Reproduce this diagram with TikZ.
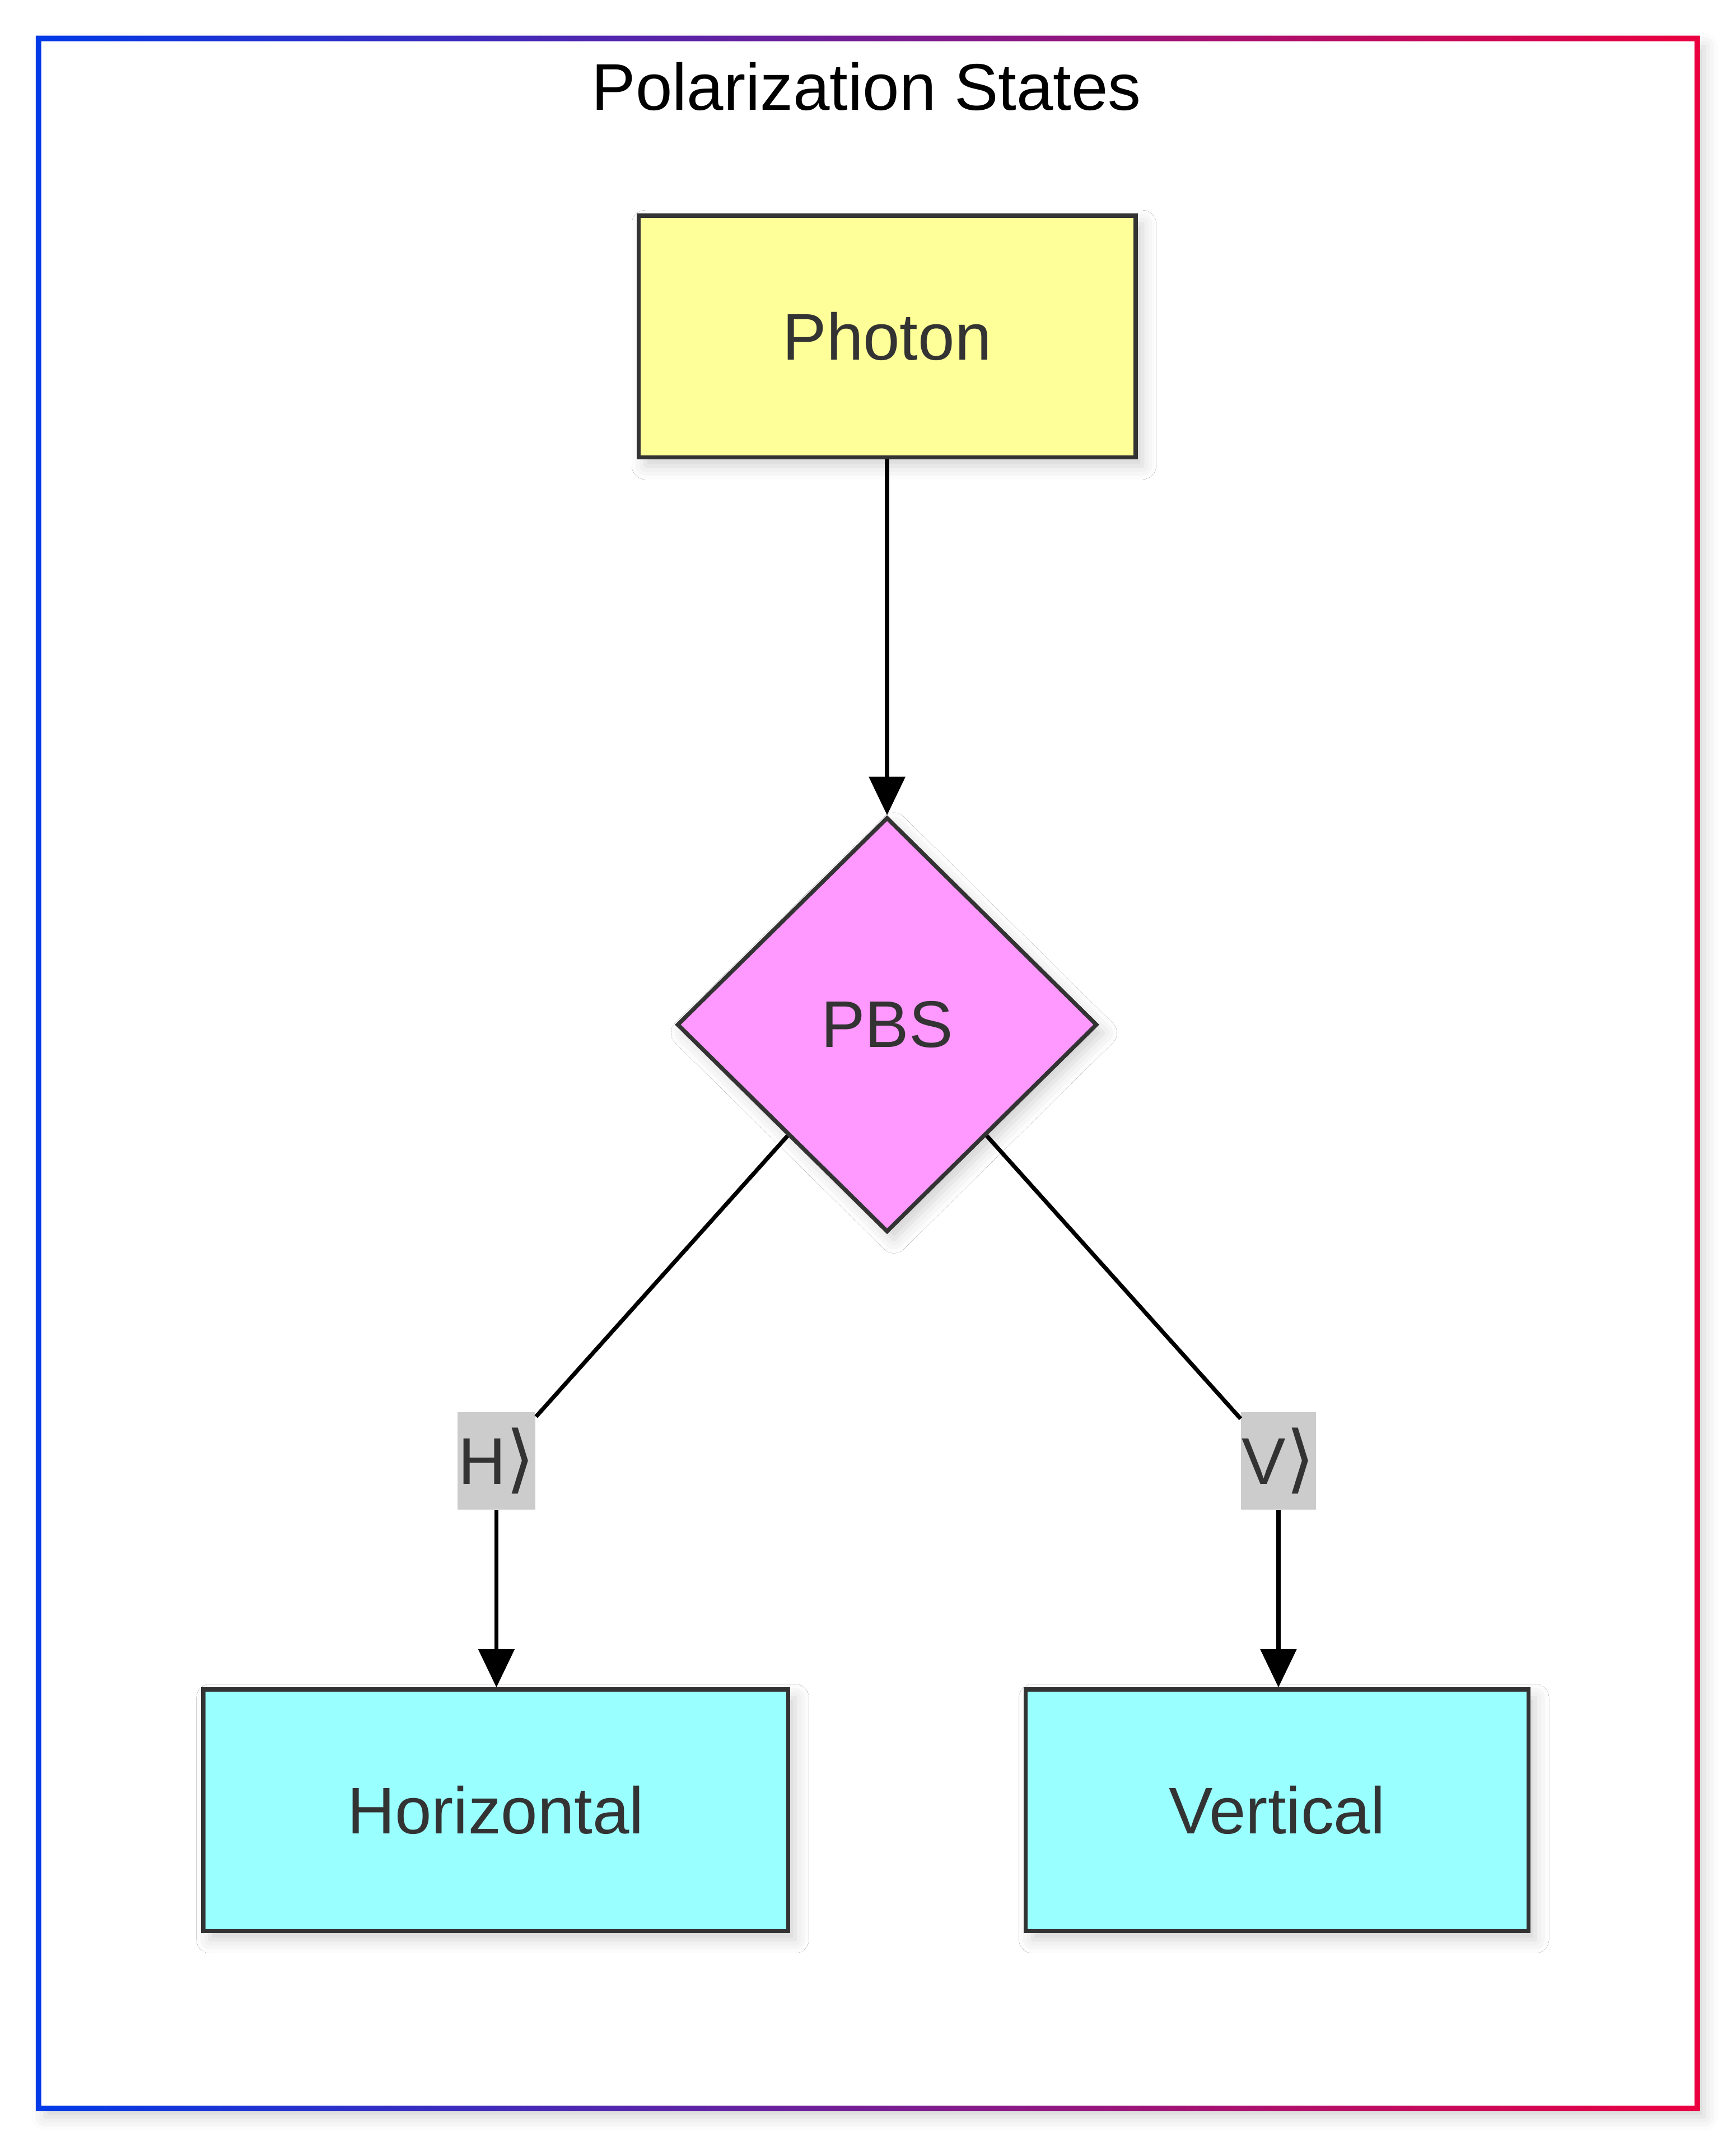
\documentclass[tikz,border=0pt]{standalone}
\usepackage{fontspec}
\setmainfont{Liberation Sans}
\newfontfamily\symfont{DejaVu Sans}
\usepackage{tikz}
\usetikzlibrary{shapes.geometric, arrows.meta, positioning, shadows.blur}

\definecolor{textgray}{HTML}{333333}
\definecolor{photonfill}{HTML}{FFFF99}
\definecolor{pbsfill}{HTML}{FF99FF}
\definecolor{statefill}{HTML}{99FFFF}
\definecolor{labelfill}{HTML}{CCCCCC}
\definecolor{frameblue}{RGB}{0,58,232}
\definecolor{framered}{RGB}{235,0,64}

\newcommand{\ketend}{{\symfont\fontsize{27}{27}\selectfont ⟩}}

\tikzset{
    softshadow/.style={blur shadow={shadow xshift=2.5pt, shadow yshift=-3pt, shadow blur radius=5pt, shadow opacity=18}},
    box/.style={rectangle, draw=textgray, line width=1.5pt, text=textgray, font=\fontsize{24}{28}\selectfont, minimum height=88pt, inner sep=0pt, softshadow},
    splitter/.style={diamond, aspect=1, draw=textgray, line width=1.5pt, fill=pbsfill, text=textgray, font=\fontsize{24}{28}\selectfont, minimum width=153pt, minimum height=151pt, inner sep=0pt, softshadow},
    statelabel/.style={rectangle, fill=labelfill, text=textgray, font=\fontsize{24}{28}\selectfont, minimum height=35.5pt, inner xsep=0.3pt, inner ysep=0pt},
    link/.style={line width=1.5pt, black},
    edge/.style={link, -{Triangle[length=14pt, width=13pt]}}
}

\begin{document}
\begin{tikzpicture}[x=0.5pt, y=-0.5pt]
    \useasboundingbox (0,0) rectangle (1264,1566);

    % outer frame with shadow and gradient border
    \fill[white, softshadow] (28,28) rectangle (1236,1535);
    \shade[even odd rule, left color=frameblue, right color=framered]
        (26,26) rectangle (1238,1537)
        (30,30) rectangle (1234,1533);
    \node[anchor=base, font=\fontsize{24}{28}\selectfont] (title) at (631,80) {Polarization States};

    % nodes
    \node[box, fill=photonfill, minimum width=181pt] (photon) at (646,245) {Photon};
    \node[splitter] (pbs) at (646,746) {PBS};
    \node[box, fill=statefill, minimum width=213pt] (horiz) at (361,1318) {Horizontal};
    \node[box, fill=statefill, minimum width=183pt] (vert) at (930,1318) {Vertical};

    % edge labels
    \node[statelabel] (hlabel) at (361.5,1063.5) {H\ketend};
    \node[statelabel] (vlabel) at (931,1063.5) {V\ketend};

    % connectors
    \draw[edge] (photon) -- (pbs);
    \draw[link] (pbs) -- (hlabel); % to |H> branch
    \draw[edge] (hlabel) -- (hlabel |- horiz.north);
    \draw[link] (pbs) -- (vlabel); % to |V> branch
    \draw[edge] (vlabel) -- (vlabel |- vert.north);
\end{tikzpicture}
\end{document}
